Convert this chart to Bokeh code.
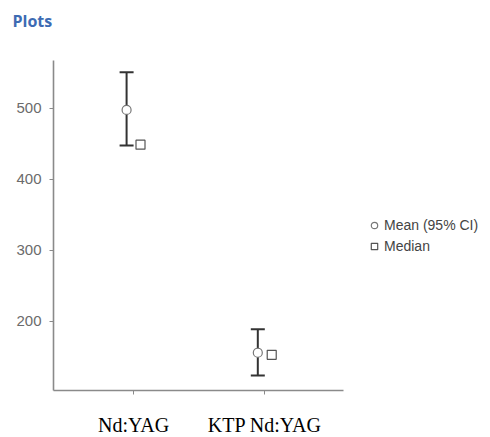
from bokeh.plotting import figure
from bokeh.models import ColumnDataSource, Whisker, TeeHead, Range1d, FixedTicker, Legend, LegendItem
from bokeh.embed import file_html
from bokeh.resources import INLINE

categories = ["Nd:YAG", "KTP Nd:YAG"]
cat_pos = [1, 2]
means = [498, 156]
ci_lower = [448, 124]
ci_upper = [551, 189]
medians = [449, 153]
y_ticks = [200, 300, 400, 500]
title_text = "Plots"

offset = 0.053
src = ColumnDataSource(dict(
    xm=[c - offset for c in cat_pos],
    xd=[c + offset for c in cat_pos],
    mean=means, lower=ci_lower, upper=ci_upper, median=medians,
))

p = figure(width=490, height=436, output_backend="svg", toolbar_location=None,
           x_range=Range1d(0.39, 2.6), y_range=Range1d(102.8, 567.6),
           frame_width=290, frame_height=330,
           min_border_left=53, min_border_right=147, min_border_top=60, min_border_bottom=46,
           title=title_text + "\n ")
p.title.text_font = "Open Sans"
p.title.text_font_style = "bold"
p.title.text_font_size = "16px"
p.title.text_color = "#3D6BB3"
p.title.offset = -41
p.title.standoff = 13

p.outline_line_color = None
p.grid.visible = False
p.background_fill_color = "white"
p.border_fill_color = "white"

for ax in (p.xaxis, p.yaxis):
    ax.axis_line_color = "#8a8a8a"
    ax.axis_line_width = 1.6
    ax.major_tick_line_color = "#8a8a8a"
    ax.major_tick_in = 0
    ax.major_tick_out = 4
    ax.minor_tick_line_color = None

p.yaxis.ticker = FixedTicker(ticks=y_ticks)
p.yaxis.major_label_text_font = "Liberation Sans"
p.yaxis.major_label_text_font_size = "15px"
p.yaxis.major_label_text_color = "#6b6b6b"
p.yaxis.major_label_standoff = 8

p.xaxis.ticker = FixedTicker(ticks=cat_pos)
p.xaxis.major_label_overrides = {c: n for c, n in zip(cat_pos, categories)}
p.xaxis.major_label_text_font = "Liberation Serif"
p.xaxis.major_label_text_font_size = "20px"
p.xaxis.major_label_text_color = "black"
p.xaxis.major_label_standoff = 19

wh = Whisker(base="xm", upper="upper", lower="lower", source=src,
             line_color="#333333", line_width=2,
             upper_head=TeeHead(size=14, line_color="#333333", line_width=2),
             lower_head=TeeHead(size=14, line_color="#333333", line_width=2))
p.add_layout(wh)

r_mean = p.scatter("xm", "mean", source=src, marker="circle", size=9,
                   fill_color="white", line_color="#777777", line_width=1.2)
r_med = p.scatter("xd", "median", source=src, marker="square", size=9,
                  fill_color="white", line_color="#555555", line_width=1.2)

legend = Legend(items=[LegendItem(label="Mean (95% CI)", renderers=[r_mean]),
                       LegendItem(label="Median", renderers=[r_med])],
                location=(23, 136), border_line_color=None, background_fill_alpha=0,
                label_text_font="Liberation Sans", label_text_font_size="14px",
                label_text_color="#444444", glyph_width=16, glyph_height=16,
                spacing=5, padding=4, margin=0, label_standoff=2)
p.add_layout(legend, "right")

open("out.html", "w").write(file_html(p, INLINE))
